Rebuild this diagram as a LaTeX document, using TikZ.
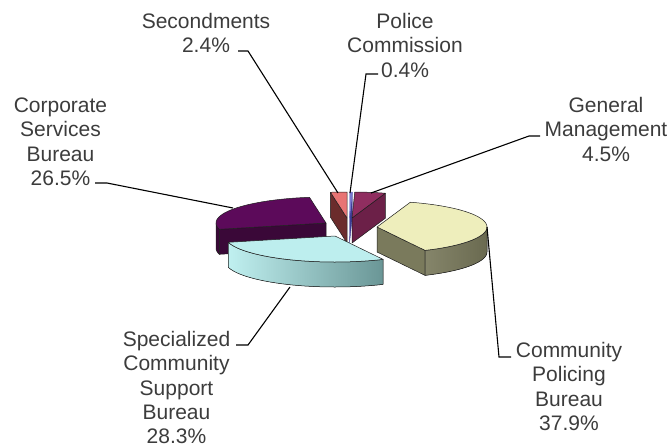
\documentclass[tikz,border=0pt]{standalone}
\usepackage{fontspec}
\setmainfont{Liberation Sans}
\usetikzlibrary{calc}
\definecolor{txt}{HTML}{3C3C3C}
\definecolor{edgec}{HTML}{1E1E1E}
\definecolor{corptop}{HTML}{5C0A5A}
\definecolor{corpside}{HTML}{3A0838}
\definecolor{pinktop}{HTML}{E87474}
\definecolor{pinkside}{HTML}{6B2C2C}
\definecolor{bluetop}{HTML}{7878D0}
\definecolor{blueside}{HTML}{3C3C94}
\definecolor{gmtop}{HTML}{902E60}
\definecolor{gmside}{HTML}{6C2048}
\definecolor{yeltop}{HTML}{EEEEBC}
\definecolor{yelside}{HTML}{7A7A5C}
\definecolor{yelwallL}{HTML}{85856A}
\definecolor{yelwallR}{HTML}{6A6A50}
\definecolor{cyantop}{HTML}{BDEEEE}
\definecolor{cyanwallL}{HTML}{C0F0F0}
\definecolor{cyanwallM}{HTML}{A6D8D8}
\definecolor{cyanwallR}{HTML}{6A9696}
\newcommand{\pieRx}{110}
\newcommand{\pieRy}{26}
\newcommand{\pieH}{25}
% top face: apex x, apex y, angle from, angle to, style
\newcommand{\pietopface}[5]{%
  \filldraw[#5] (#1,#2) -- plot[domain=#3:#4,samples=40,variable=\t]
    ({#1+\pieRx*sin(\t)},{#2-\pieRy*cos(\t)}) -- cycle;}
% outer wall: apex x, apex y, angle from, angle to, style
\newcommand{\piewallface}[5]{%
  \filldraw[#5] plot[domain=#3:#4,samples=40,variable=\t]
    ({#1+\pieRx*sin(\t)},{#2-\pieRy*cos(\t)})
    -- plot[domain=#4:#3,samples=40,variable=\t]
    ({#1+\pieRx*sin(\t)},{#2+\pieH-\pieRy*cos(\t)}) -- cycle;}
% radial face: apex x, apex y, angle, style
\newcommand{\pieradial}[4]{%
  \filldraw[#4] (#1,#2) -- ({#1+\pieRx*sin(#3)},{#2-\pieRy*cos(#3)})
    -- ({#1+\pieRx*sin(#3)},{#2+\pieH-\pieRy*cos(#3)}) -- (#1,{#2+\pieH}) -- cycle;}
\newcommand{\lbltop}{\rule{0pt}{17pt}}
\tikzset{
  face/.style={draw=edgec, line width=0.5pt, line join=round},
  leader/.style={draw=black, line width=1.1pt},
  lbl/.style={align=center, anchor=north, inner sep=0pt, text=txt,
    font=\fontsize{21}{24.4}\selectfont}
}
\begin{document}
\begin{tikzpicture}[x=1pt,y=-1pt]
\useasboundingbox (0,0) rectangle (668,447);
% Corporate Services Bureau
\pieradial{326}{223}{255.96}{face, fill=corpside}
\piewallface{326}{223}{255.96}{270}{face, fill=corpside}
\pietopface{326}{223}{255.96}{351.36}{face, fill=corptop}
% Secondments
\pieradial{347}{218}{351.36}{face, fill=pinkside}
\pietopface{347}{218}{351.36}{360}{face, fill=pinktop}
% Police Commission
\pieradial{349.5}{218}{1.44}{draw=blueside, line width=0.4pt, fill=blueside}
\pietopface{349.5}{218}{0}{1.44}{draw=bluetop, line width=0.4pt, fill=bluetop}
% General Management
\pieradial{352}{218}{17.64}{face, fill=gmside}
\pietopface{352}{218}{1.44}{17.64}{face, fill=gmtop}
% Community Policing Bureau
\pieradial{377}{227}{154.08}{face, fill=yelside}
\piewallface{377}{227}{90}{154.08}{face, left color=yelwallL, right color=yelwallR}
\pietopface{377}{227}{17.64}{154.08}{face, fill=yeltop}
% Specialized Community Support Bureau
\piewallface{335}{236}{154.08}{255.96}{face, left color=cyanwallL, middle color=cyanwallM, right color=cyanwallR}
\pietopface{335}{236}{154.08}{255.96}{face, fill=cyantop}

% labels
\node[lbl] (lsec) at (206,11) {\lbltop Secondments\\2.4\%};
\node[lbl] (lpol) at (405,11) {\lbltop Police\\Commission\\0.4\%};
\node[lbl] (lcorp) at (60.5,95) {\lbltop Corporate\\Services\\Bureau\\26.5\%};
\node[lbl] (lgm) at (606,95) {\lbltop General\\Management\\4.5\%};
\node[lbl] (lspec) at (176.5,329) {\lbltop Specialized\\Community\\Support\\Bureau\\28.3\%};
\node[lbl] (lcom) at (569,340) {\lbltop Community\\Policing\\Bureau\\37.9\%};

% leader lines
\coordinate (corpA) at (95,183);  \coordinate (corpB) at (107,183); \coordinate (corpC) at (233,208);
\coordinate (secA) at (238,51);   \coordinate (secB) at (248,51);   \coordinate (secC) at (338,193);
\coordinate (polA) at (378,74);   \coordinate (polB) at (366,74);   \coordinate (polC) at (350,193);
\coordinate (gmA) at (540,136);   \coordinate (gmB) at (529,136);   \coordinate (gmC) at (371,193);
\coordinate (specA) at (236,345); \coordinate (specB) at (248,345); \coordinate (specC) at (290,287);
\coordinate (comA) at (511,357);  \coordinate (comB) at (499,357);  \coordinate (comC) at (487,227);
\draw[leader] (corpA) -- (corpB) -- (corpC);
\draw[leader] (secA) -- (secB) -- (secC);
\draw[leader] (polA) -- (polB) -- (polC);
\draw[leader] (gmA) -- (gmB) -- (gmC);
\draw[leader] (specA) -- (specB) -- (specC);
\draw[leader] (comA) -- (comB) -- (comC);
\end{tikzpicture}
\end{document}
